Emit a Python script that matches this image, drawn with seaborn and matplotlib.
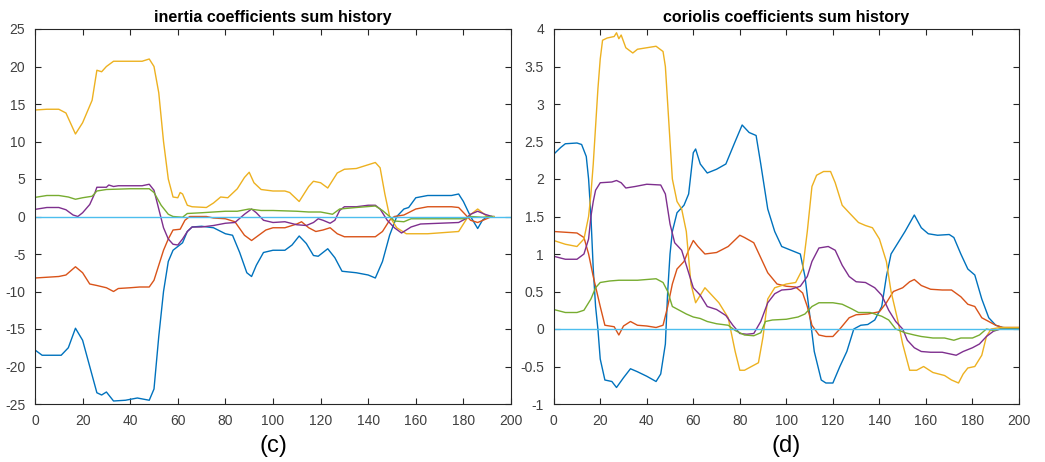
import matplotlib
matplotlib.use("Agg")
import matplotlib.pyplot as plt
import seaborn as sns
import pandas as pd

# ---------------- inertia coefficients (left panel) ----------------
in_blue_x = [0, 3, 11, 14, 17, 20, 23, 26, 28, 30, 33, 38, 43, 48, 50, 52, 54, 56, 58, 60, 62, 64, 66, 70, 75, 80, 83, 86, 89, 91, 93, 96, 100, 105, 108, 111, 114, 117, 119, 123, 126, 129, 135, 140, 143, 146, 149, 152, 155, 157, 160, 165, 175, 178, 180, 183, 186, 188, 190, 193]
in_blue_y = [-17.8, -18.5, -18.5, -17.5, -14.9, -16.5, -20, -23.5, -23.8, -23.4, -24.6, -24.5, -24.2, -24.5, -23, -16, -10, -6, -4.5, -4.0, -3.5, -2.0, -1.4, -1.3, -1.5, -2.3, -2.5, -4.8, -7.5, -8.0, -6.5, -4.8, -4.5, -4.5, -3.8, -2.6, -3.6, -5.2, -5.3, -4.3, -5.5, -7.3, -7.5, -7.8, -8.2, -6, -2.5, 0, 1.0, 1.2, 2.5, 2.8, 2.8, 3.0, 2.0, 0, -1.6, -0.5, 0, 0]

in_orange_x = [0, 10, 13, 17, 20, 23, 26, 30, 33, 35, 40, 44, 48, 50, 52, 54, 56, 58, 61, 63, 65, 72, 75, 80, 84, 88, 91, 94, 97, 100, 105, 110, 112, 115, 118, 121, 124, 127, 130, 135, 143, 146, 149, 151, 155, 160, 165, 175, 178, 181, 183, 186, 189, 192]
in_orange_y = [-8.2, -8.0, -7.8, -6.7, -7.5, -9.0, -9.2, -9.5, -10.0, -9.6, -9.5, -9.4, -9.4, -8.5, -6.5, -4.5, -3, -1.8, -1.7, -0.5, 0, 0, -0.2, -0.3, -0.7, -2.5, -3.2, -2.5, -1.8, -1.5, -1.5, -1.0, -0.7, -1.5, -2.0, -1.8, -1.5, -2.3, -2.7, -2.7, -2.7, -2.0, -0.5, 0, 0.2, 1.0, 1.3, 1.3, 1.2, 0.2, -0.5, -0.8, -0.4, 0]

in_yellow_x = [0, 5, 10, 13, 17, 20, 24, 26, 28, 30, 33, 40, 45, 48, 50, 52, 54, 56, 58, 60, 61, 62, 64, 66, 72, 75, 78, 81, 85, 88, 90, 92, 95, 100, 105, 107, 111, 115, 117, 120, 123, 127, 130, 135, 140, 143, 145, 147, 149, 152, 156, 165, 178, 182, 186, 190, 193]
in_yellow_y = [14.2, 14.3, 14.3, 13.8, 11.0, 12.5, 15.5, 19.5, 19.3, 20.0, 20.7, 20.7, 20.7, 21.0, 20.0, 16.5, 10, 5, 2.6, 2.5, 3.2, 3.0, 1.5, 1.3, 1.2, 1.8, 2.6, 2.5, 3.7, 5.2, 5.9, 4.5, 3.6, 3.4, 3.4, 3.2, 2.0, 4.0, 4.7, 4.5, 3.8, 5.8, 6.3, 6.4, 6.9, 7.2, 6.5, 3.0, 0, -1.5, -2.3, -2.3, -2.0, 0, 1.0, 0, 0]

in_purple_x = [0, 5, 10, 13, 16, 18, 20, 23, 25, 26, 30, 31, 33, 35, 40, 45, 48, 50, 52, 54, 56, 58, 60, 62, 64, 66, 70, 75, 80, 84, 88, 91, 93, 96, 100, 105, 110, 114, 117, 119, 121, 124, 126, 128, 130, 135, 140, 143, 145, 148, 151, 154, 158, 162, 170, 178, 181, 183, 186, 189, 192]
in_purple_y = [0.95, 1.2, 1.2, 0.9, 0.2, 0, 0.5, 1.6, 3.0, 3.9, 3.9, 4.2, 4.0, 4.1, 4.1, 4.1, 4.3, 3.5, 1.0, -1.5, -3.0, -3.7, -3.8, -3.0, -2.0, -1.4, -1.4, -1.2, -0.9, -0.8, 0.3, 1.0, 0.5, -0.5, -0.8, -0.7, -1.1, -1.2, -0.8, -0.3, -0.5, -0.9, -0.5, 0.8, 1.3, 1.3, 1.5, 1.5, 1.0, -0.5, -1.5, -2.2, -1.4, -1.0, -0.9, -0.8, -0.3, 0.3, 0.7, 0.3, 0]

in_green_x = [0, 5, 10, 14, 17, 20, 24, 26, 30, 40, 48, 50, 53, 56, 58, 62, 64, 70, 75, 80, 85, 90, 95, 100, 110, 115, 120, 125, 128, 135, 143, 146, 149, 151, 155, 158, 165, 180, 183, 188, 192]
in_green_y = [2.55, 2.8, 2.8, 2.6, 2.3, 2.5, 2.7, 3.4, 3.6, 3.7, 3.7, 3.2, 1.5, 0.3, 0, -0.1, 0.4, 0.5, 0.6, 0.7, 0.7, 1.0, 0.8, 0.8, 0.7, 0.6, 0.6, 0.3, 1.0, 1.2, 1.4, 0.8, 0, -0.6, -0.7, -0.3, -0.3, -0.3, 0, -0.1, 0]

# ---------------- coriolis coefficients (right panel) ----------------
co_blue_x = [0, 3, 5, 10, 12, 14, 15, 16, 17, 18, 19, 20, 22, 25, 27, 30, 33, 36, 40, 44, 46, 48, 49, 50, 51, 53, 56, 58, 60, 61, 63, 66, 70, 74, 78, 81, 84, 87, 89, 92, 95, 98, 102, 106, 108, 110, 112, 115, 117, 120, 123, 126, 129, 132, 135, 138, 141, 143, 145, 148, 151, 155, 158, 161, 165, 170, 172, 175, 178, 181, 184, 187, 190, 193, 200]
co_blue_y = [2.33, 2.42, 2.47, 2.48, 2.46, 2.3, 2.0, 1.5, 0.8, 0.3, 0, -0.4, -0.68, -0.7, -0.78, -0.65, -0.53, -0.57, -0.63, -0.7, -0.6, -0.2, 0.5, 1.0, 1.3, 1.55, 1.65, 1.8, 2.35, 2.4, 2.2, 2.08, 2.13, 2.2, 2.5, 2.72, 2.62, 2.58, 2.2, 1.6, 1.3, 1.1, 1.05, 1.0, 0.7, 0.2, -0.3, -0.68, -0.72, -0.72, -0.5, -0.3, 0, 0.05, 0.06, 0.12, 0.3, 0.7, 1.0, 1.15, 1.3, 1.52, 1.35, 1.27, 1.25, 1.26, 1.22, 1.0, 0.8, 0.72, 0.4, 0.15, 0.05, 0.02, 0]

co_orange_x = [0, 5, 10, 13, 15, 17, 20, 22, 26, 28, 30, 33, 36, 40, 44, 47, 49, 51, 53, 56, 58, 60, 62, 65, 70, 75, 80, 82, 86, 89, 92, 96, 100, 104, 107, 109, 111, 114, 117, 120, 123, 127, 130, 135, 140, 143, 146, 150, 153, 155, 158, 162, 167, 171, 175, 178, 181, 184, 187, 190, 193, 200]
co_orange_y = [1.3, 1.29, 1.28, 1.22, 1.0, 0.7, 0.3, 0.05, 0.03, -0.08, 0.04, 0.1, 0.05, 0.04, 0.02, 0.05, 0.3, 0.6, 0.8, 0.9, 1.05, 1.18, 1.1, 1.0, 1.02, 1.1, 1.25, 1.22, 1.15, 0.95, 0.75, 0.6, 0.57, 0.56, 0.48, 0.3, 0.05, -0.08, -0.1, -0.1, 0.0, 0.15, 0.19, 0.2, 0.23, 0.35, 0.5, 0.55, 0.63, 0.66, 0.58, 0.53, 0.52, 0.52, 0.43, 0.33, 0.3, 0.15, 0.1, 0.05, 0.02, 0.02]

co_yellow_x = [0, 5, 10, 13, 15, 16, 17, 18, 19, 20, 21, 23, 26, 27, 28, 29, 31, 34, 36, 40, 44, 47, 48, 50, 51, 53, 55, 57, 59, 61, 63, 65, 68, 71, 75, 78, 80, 82, 85, 88, 90, 92, 95, 100, 104, 107, 109, 111, 113, 116, 119, 121, 124, 127, 131, 134, 137, 140, 143, 145, 148, 150, 153, 156, 159, 163, 168, 171, 174, 176, 178, 181, 184, 186, 188, 192, 200]
co_yellow_y = [1.18, 1.13, 1.1, 1.2, 1.5, 1.8, 2.2, 2.7, 3.2, 3.6, 3.85, 3.88, 3.9, 3.95, 3.87, 3.92, 3.75, 3.68, 3.73, 3.75, 3.77, 3.7, 3.5, 2.5, 2.0, 1.7, 1.6, 1.3, 0.6, 0.35, 0.45, 0.55, 0.45, 0.35, 0.15, -0.3, -0.55, -0.55, -0.5, -0.45, -0.1, 0.4, 0.55, 0.6, 0.62, 0.8, 1.3, 1.9, 2.05, 2.1, 2.1, 1.95, 1.65, 1.55, 1.42, 1.38, 1.35, 1.2, 0.9, 0.5, 0.1, -0.2, -0.55, -0.55, -0.5, -0.58, -0.62, -0.68, -0.72, -0.6, -0.52, -0.5, -0.35, -0.1, 0, 0.02, 0.02]

co_purple_x = [0, 5, 10, 13, 15, 16, 17, 18, 20, 25, 27, 29, 31, 35, 40, 46, 48, 50, 52, 55, 57, 60, 63, 66, 70, 74, 77, 80, 83, 86, 89, 92, 95, 98, 102, 106, 109, 111, 114, 118, 121, 124, 127, 130, 134, 138, 141, 144, 147, 150, 152, 155, 158, 162, 167, 170, 173, 176, 180, 183, 186, 189, 192, 200]
co_purple_y = [0.97, 0.93, 0.93, 1.0, 1.2, 1.5, 1.7, 1.85, 1.95, 1.96, 1.98, 1.95, 1.88, 1.9, 1.93, 1.92, 1.8, 1.4, 1.15, 1.05, 0.85, 0.55, 0.45, 0.3, 0.26, 0.18, 0.05, -0.06, -0.07, -0.06, 0.1, 0.35, 0.47, 0.52, 0.53, 0.57, 0.7, 0.9, 1.08, 1.1, 1.05, 0.85, 0.7, 0.63, 0.62, 0.55, 0.45, 0.25, 0.1, 0.0, -0.15, -0.25, -0.3, -0.31, -0.31, -0.33, -0.35, -0.3, -0.25, -0.2, -0.1, -0.03, 0.0, 0]

co_green_x = [0, 5, 10, 13, 16, 18, 20, 24, 28, 32, 36, 40, 44, 47, 49, 51, 54, 57, 60, 63, 66, 70, 75, 78, 82, 86, 89, 91, 94, 100, 105, 108, 111, 114, 120, 124, 128, 131, 136, 141, 144, 147, 151, 155, 158, 163, 168, 172, 175, 180, 183, 186, 189, 192, 200]
co_green_y = [0.26, 0.22, 0.22, 0.25, 0.4, 0.55, 0.62, 0.64, 0.65, 0.65, 0.65, 0.66, 0.67, 0.62, 0.5, 0.3, 0.25, 0.2, 0.16, 0.14, 0.1, 0.07, 0.05, -0.02, -0.08, -0.09, -0.05, 0.1, 0.12, 0.13, 0.16, 0.2, 0.3, 0.35, 0.35, 0.33, 0.27, 0.22, 0.22, 0.17, 0.12, 0.0, -0.05, -0.08, -0.1, -0.12, -0.12, -0.15, -0.12, -0.12, -0.08, 0.0, -0.02, 0.0, 0]

# reference line at zero, spanning the full step range
zero_x = [0, 200]
zero_y = [0, 0]

# MATLAB default line colour order
c_blue, c_orange, c_yellow = "#0072BD", "#D95319", "#EDB120"
c_purple, c_green, c_cyan = "#7E2F8E", "#77AC30", "#4DBEEE"

sns.set_style("white")
plt.rcParams["font.family"] = ["Liberation Sans", "DejaVu Sans"]

fig = plt.figure(figsize=(10.45, 4.62), dpi=100)
W, H = 1045, 462
ax_l = fig.add_axes([35 / W, 58 / H, 476 / W, 375 / H])
ax_r = fig.add_axes([553.7 / W, 58 / H, 465.3 / W, 375 / H])

panels = [
    (ax_l, [(in_blue_x, in_blue_y, c_blue), (in_orange_x, in_orange_y, c_orange),
            (in_yellow_x, in_yellow_y, c_yellow), (in_purple_x, in_purple_y, c_purple),
            (in_green_x, in_green_y, c_green), (zero_x, zero_y, c_cyan)],
     "inertia coefficients sum history", "(c)", (-25, 25), range(-25, 30, 5)),
    (ax_r, [(co_blue_x, co_blue_y, c_blue), (co_orange_x, co_orange_y, c_orange),
            (co_yellow_x, co_yellow_y, c_yellow), (co_purple_x, co_purple_y, c_purple),
            (co_green_x, co_green_y, c_green), (zero_x, zero_y, c_cyan)],
     "coriolis coefficients sum history", "(d)", (-1, 4), [-1, -0.5, 0, 0.5, 1, 1.5, 2, 2.5, 3, 3.5, 4]),
]

for ax, series, title, tag, ylim, yticks in panels:
    for xs, ys, col in series:
        df = pd.DataFrame({"step": xs, "value": ys})
        sns.lineplot(data=df, x="step", y="value", ax=ax, color=col,
                     linewidth=1.0, sort=False, estimator=None)
    ax.set_xlim(0, 200)
    ax.set_ylim(*ylim)
    ax.set_xticks(range(0, 201, 20))
    ax.set_yticks(list(yticks))
    ax.set_yticklabels([f"{t:g}" for t in yticks])
    ax.set_xlabel("")
    ax.set_ylabel("")
    ax.tick_params(direction="in", length=4, width=0.8, colors="#262626",
                   labelcolor="#404040", labelsize=10, top=True, right=True,
                   bottom=True, left=True)
    ax.tick_params(axis="x", pad=7)
    ax.tick_params(axis="y", pad=7)
    for sp in ax.spines.values():
        sp.set_visible(True)
        sp.set_color("#262626")
        sp.set_linewidth(0.8)
    ax.set_title(title, fontsize=11.5, fontweight="bold", color="black", pad=5)
    ax.text(0.5, -0.112, tag, transform=ax.transAxes, ha="center", va="center",
            fontsize=17, color="black")

fig.savefig("out.png", dpi=100)
